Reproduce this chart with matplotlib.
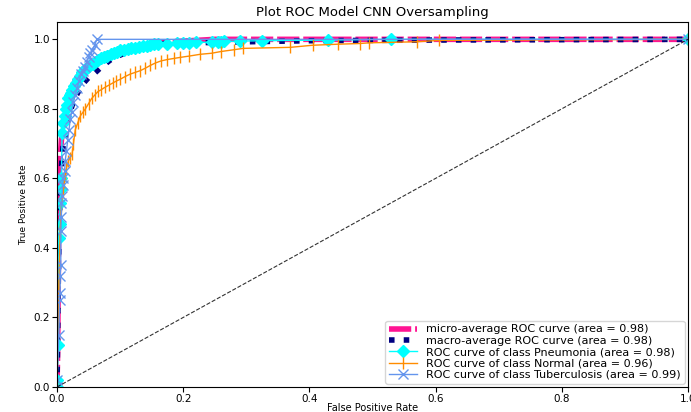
import matplotlib
matplotlib.use("Agg")
import matplotlib.pyplot as plt

# ROC points
mi_fpr = [0.0, 0.001, 0.002, 0.003, 0.004, 0.005, 0.007, 0.009, 0.012, 0.015,
          0.019, 0.024, 0.030, 0.037, 0.045, 0.055, 0.066, 0.078, 0.092, 0.108,
          0.125, 0.145, 0.170, 0.200, 0.250, 1.0]
mi_tpr = [0.0, 0.10, 0.30, 0.55, 0.63, 0.66, 0.71, 0.74, 0.77, 0.80,
          0.83, 0.86, 0.885, 0.905, 0.92, 0.935, 0.947, 0.957, 0.966, 0.973,
          0.980, 0.986, 0.991, 0.995, 1.0, 1.0]

ma_fpr = [0.0, 0.002, 0.004, 0.006, 0.008, 0.010, 0.013, 0.018, 0.024, 0.031,
          0.040, 0.050, 0.058, 0.070, 0.084, 0.097, 0.110, 0.130, 0.150, 0.170,
          0.200, 0.250, 0.300, 0.400, 0.600, 1.0]
ma_tpr = [0.0, 0.30, 0.50, 0.60, 0.66, 0.70, 0.72, 0.776, 0.81, 0.84,
          0.87, 0.89, 0.90, 0.92, 0.94, 0.952, 0.963, 0.975, 0.982, 0.988,
          0.99, 0.991, 0.993, 0.996, 0.998, 1.0]

pn_fpr = [0.0, 0.0, 0.002, 0.003, 0.004, 0.005, 0.006, 0.007, 0.008,
          0.010, 0.012, 0.014, 0.016, 0.018, 0.020, 0.022, 0.024,
          0.027, 0.030, 0.033, 0.036, 0.039, 0.042, 0.045,
          0.049, 0.053, 0.057, 0.061, 0.065,
          0.070, 0.075, 0.080, 0.085, 0.090, 0.095, 0.100,
          0.106, 0.112, 0.118, 0.124, 0.130, 0.136, 0.142, 0.148, 0.154, 0.160,
          0.175, 0.190, 0.200, 0.210, 0.220,
          0.245, 0.255, 0.260, 0.265,
          0.290, 0.325, 0.430, 0.530, 1.0]
pn_tpr = [0.0, 0.02, 0.12, 0.43, 0.47, 0.53, 0.57, 0.60, 0.73,
          0.76, 0.78, 0.80, 0.81, 0.83, 0.84, 0.845, 0.855,
          0.865, 0.875, 0.885, 0.895, 0.905, 0.91, 0.915,
          0.92, 0.925, 0.93, 0.935, 0.94,
          0.945, 0.95, 0.953, 0.957, 0.96, 0.965, 0.968,
          0.97, 0.972, 0.974, 0.976, 0.978, 0.98, 0.982, 0.984, 0.986, 0.987,
          0.988, 0.989, 0.99, 0.99, 0.991,
          0.992, 0.993, 0.993, 0.994,
          0.995, 0.996, 0.998, 1.0, 1.0]

nm_fpr = [0.0, 0.003, 0.005, 0.007, 0.009, 0.011, 0.013, 0.015,
          0.018, 0.021, 0.024, 0.026, 0.029,
          0.033, 0.037, 0.041, 0.045,
          0.050, 0.055, 0.060, 0.065, 0.070,
          0.076, 0.082, 0.088, 0.094, 0.100,
          0.108, 0.116, 0.124, 0.132, 0.140, 0.148, 0.156,
          0.165, 0.175, 0.185, 0.195,
          0.210, 0.227, 0.245, 0.260, 0.280, 0.295,
          0.370, 0.405, 0.445, 0.480, 0.495, 0.570, 0.605, 1.0]
nm_tpr = [0.0, 0.30, 0.45, 0.52, 0.56, 0.59, 0.61, 0.63,
          0.65, 0.66, 0.67, 0.70, 0.74,
          0.76, 0.78, 0.79, 0.80,
          0.815, 0.83, 0.84, 0.85, 0.855,
          0.862, 0.868, 0.874, 0.88, 0.885,
          0.893, 0.90, 0.905, 0.91, 0.917, 0.925, 0.932,
          0.938, 0.942, 0.945, 0.948,
          0.952, 0.957, 0.96, 0.965, 0.97, 0.974,
          0.977, 0.983, 0.986, 0.988, 0.99, 0.993, 0.997, 1.0]

tb_fpr = [0.0, 0.0, 0.003, 0.004, 0.005, 0.005, 0.006, 0.006, 0.007, 0.007,
          0.008, 0.009, 0.010, 0.012, 0.013, 0.015, 0.017, 0.019, 0.021, 0.023,
          0.026, 0.029, 0.032, 0.035, 0.038, 0.041, 0.044, 0.047, 0.050, 0.053,
          0.056, 0.060, 0.063, 1.0]
tb_tpr = [0.0, 0.02, 0.15, 0.25, 0.27, 0.32, 0.35, 0.45, 0.49, 0.53,
          0.55, 0.58, 0.60, 0.62, 0.65, 0.68, 0.71, 0.74, 0.77, 0.79,
          0.82, 0.84, 0.86, 0.88, 0.90, 0.91, 0.92, 0.935, 0.95, 0.96,
          0.97, 0.985, 1.0, 1.0]

auc_micro = 0.98
auc_macro = 0.98
classes = ['Pneumonia', 'Normal', 'Tuberculosis']
class_auc = [0.98, 0.96, 0.99]

fig = plt.figure(figsize=(6.91, 4.12), dpi=100)
ax = fig.add_axes([0.0825, 0.0607, 0.913, 0.886])

ax.plot(mi_fpr, mi_tpr, color='deeppink', linestyle=(0, (4, 0.7)), linewidth=4,
        label='micro-average ROC curve (area = {0:0.2f})'.format(auc_micro))
ax.plot(ma_fpr, ma_tpr, color='navy', linestyle=':', linewidth=4,
        label='macro-average ROC curve (area = {0:0.2f})'.format(auc_macro))

ax.plot(pn_fpr, pn_tpr, color='aqua', marker='D', markersize=6, lw=1,
        label='ROC curve of class {0} (area = {1:0.2f})'.format(classes[0], class_auc[0]))
ax.plot(nm_fpr, nm_tpr, color='darkorange', marker='|', markersize=9, lw=1,
        label='ROC curve of class {0} (area = {1:0.2f})'.format(classes[1], class_auc[1]))
ax.plot(tb_fpr, tb_tpr, color='cornflowerblue', marker='x', markersize=7, lw=1,
        label='ROC curve of class {0} (area = {1:0.2f})'.format(classes[2], class_auc[2]))

ax.plot([0, 1], [0, 1], 'k--', lw=0.8, alpha=0.8)
ax.set_xlim([0.0, 1.0])
ax.set_ylim([0.0, 1.05])
ax.tick_params(labelsize=7.5, pad=1.5)
ax.set_xlabel('False Positive Rate', fontsize=7, labelpad=-1)
ax.set_ylabel('True Positive Rate', fontsize=6.5, family=['Liberation Sans Narrow', 'DejaVu Sans'])
ax.set_title('Plot ROC Model CNN Oversampling', fontsize=9.5, pad=4)
ax.legend(loc='lower right', fontsize=8, labelspacing=0.12, handlelength=2.5,
          borderpad=0.35, borderaxespad=0.3)

fig.savefig('out.png', dpi=100)
